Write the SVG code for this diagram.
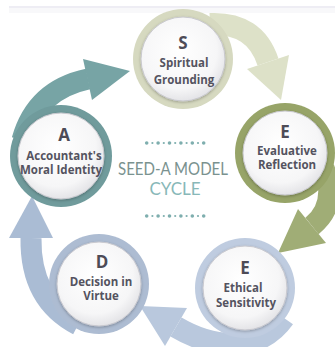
<svg xmlns="http://www.w3.org/2000/svg" width="335" height="347" viewBox="0 0 335 347">
<defs>
<radialGradient id="face" cx="0.45" cy="0.4" r="0.65">
<stop offset="0" stop-color="#ffffff"/>
<stop offset="0.7" stop-color="#f6f6f7"/>
<stop offset="1" stop-color="#dedee2"/>
</radialGradient>
<filter id="sh" x="-20%" y="-20%" width="140%" height="140%">
<feDropShadow dx="0" dy="1" stdDeviation="1.6" flood-color="#000" flood-opacity="0.28"/>
</filter>
<filter id="soft" x="-20%" y="-20%" width="140%" height="140%">
<feGaussianBlur stdDeviation="0.6"/>
</filter>
</defs>
<style>
.letter{font-family:"Open Sans","DejaVu Sans",sans-serif;font-weight:700;font-size:17px;fill:#4d4c57;text-anchor:middle}
.lab{font-family:"Open Sans","DejaVu Sans",sans-serif;font-weight:700;font-size:11.5px;fill:#545360;text-anchor:middle}
.face{fill:url(#face);stroke:#c9c9cf;stroke-width:1;filter:url(#sh)}
.ring{filter:url(#soft)}
.band{fill:none}
.title{font-family:Lato,"Liberation Sans",sans-serif;font-size:17px;text-anchor:middle}
.dot{fill:#7eaeae}
</style>
<rect width="335" height="347" fill="#ffffff"/>
<line x1="9" y1="7" x2="335" y2="7" stroke="#dedbea" stroke-width="1.2"/>
<rect x="9" y="8" width="326" height="5" fill="#f8f8fa"/>

<g id="connectors">
<g id="a-to-s">
<path class="band" d="M22 140 Q36 90 88 79" stroke="#77a4a5" stroke-width="21"/>
<polygon points="130,71 83,59 92,100" fill="#77a4a5"/>
</g>
<g id="s-to-e1">
<path class="band" d="M210 24 Q255 22 268 62" stroke="#dde1c8" stroke-width="22"/>
<polygon points="281,100 289,55 247,69" fill="#dde1c8"/>
</g>
<g id="e1-to-e2">
<path class="band" d="M324 168 Q338 205 312 226" stroke="#a0ad76" stroke-width="21"/>
<polygon points="278,253 326,243 298,209" fill="#a0ad76"/>
</g>
<g id="e2-to-d">
<path class="band" d="M284 318 C260 352 215 350 176 327" stroke="#b9c8dd" stroke-width="22"/>
<polygon points="140,306 165,346 187,308" fill="#b9c8dd"/>
</g>
<g id="d-to-a">
<path class="band" d="M78 325 Q30 300 31 238" stroke="#aabcd4" stroke-width="21"/>
<polygon points="32,196 53,238 9,238" fill="#aabcd4"/>
</g>
</g>

<g id="node-s">
<circle class="ring" cx="183" cy="59" r="50" fill="#d6d9c0"/>
<circle class="face" cx="183" cy="59" r="42"/>
<text class="letter" x="183" y="49">S</text>
<text class="lab" x="184" y="67">Spiritual</text>
<text class="lab" x="184" y="84">Grounding</text>
</g>

<g id="node-e1">
<circle class="ring" cx="285" cy="153" r="50" fill="#97a468"/>
<circle class="face" cx="285" cy="153" r="42"/>
<text class="letter" x="285" y="138">E</text>
<text class="lab" x="287" y="155">Evaluative</text>
<text class="lab" x="287" y="169">Reflection</text>
</g>

<g id="node-e2">
<circle class="ring" cx="245" cy="288" r="50" fill="#bfcce0"/>
<circle class="face" cx="245" cy="288" r="42"/>
<text class="letter" x="245" y="274">E</text>
<text class="lab" x="243" y="292">Ethical</text>
<text class="lab" x="246" y="307">Sensitivity</text>
</g>

<g id="node-d">
<circle class="ring" cx="99" cy="284" r="50" fill="#adbcd2"/>
<circle class="face" cx="99" cy="284" r="42"/>
<text class="letter" x="102" y="268">D</text>
<text class="lab" x="101" y="286">Decision in</text>
<text class="lab" x="101" y="300">Virtue</text>
</g>

<g id="node-a">
<circle class="ring" cx="61" cy="156" r="51" fill="#6f9b9c"/>
<circle class="face" cx="61" cy="156" r="43"/>
<text class="letter" x="64" y="141">A</text>
<text class="lab" x="64" y="160">Accountant's</text>
<text class="lab" x="61" y="174">Moral Identity</text>
</g>

<g id="center-title">
<g id="dots-top">
<circle class="dot" cx="146.7" cy="143" r="1.8"/><circle class="dot" cx="152.4" cy="143" r="1.1"/>
<circle class="dot" cx="158.1" cy="143" r="1.8"/><circle class="dot" cx="163.8" cy="143" r="1.1"/>
<circle class="dot" cx="169.5" cy="143" r="1.8"/><circle class="dot" cx="175.2" cy="143" r="1.1"/>
<circle class="dot" cx="180.9" cy="143" r="1.8"/><circle class="dot" cx="186.6" cy="143" r="1.1"/>
<circle class="dot" cx="192.3" cy="143" r="1.8"/><circle class="dot" cx="198" cy="143" r="1.1"/>
<circle class="dot" cx="203.7" cy="143" r="1.8"/>
</g>
<text class="title" x="173" y="175" fill="#7a928f" textLength="110" lengthAdjust="spacingAndGlyphs">SEED-A MODEL</text>
<text class="title" x="175" y="195" fill="#88b8b8">CYCLE</text>
<g id="dots-bottom">
<circle class="dot" cx="146.7" cy="216" r="1.8"/><circle class="dot" cx="152.4" cy="216" r="1.1"/>
<circle class="dot" cx="158.1" cy="216" r="1.8"/><circle class="dot" cx="163.8" cy="216" r="1.1"/>
<circle class="dot" cx="169.5" cy="216" r="1.8"/><circle class="dot" cx="175.2" cy="216" r="1.1"/>
<circle class="dot" cx="180.9" cy="216" r="1.8"/><circle class="dot" cx="186.6" cy="216" r="1.1"/>
<circle class="dot" cx="192.3" cy="216" r="1.8"/><circle class="dot" cx="198" cy="216" r="1.1"/>
<circle class="dot" cx="203.7" cy="216" r="1.8"/>
</g>
</g>
</svg>
